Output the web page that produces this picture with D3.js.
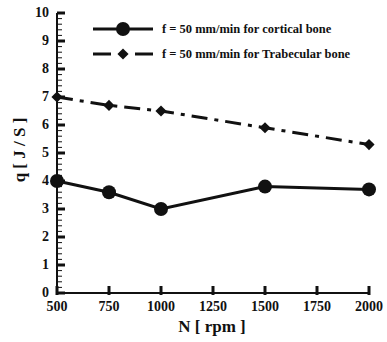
<!DOCTYPE html>
<html>
<head>
<meta charset="utf-8">
<script src="https://cdn.jsdelivr.net/npm/d3@7"></script>
<style>
  body { margin: 0; background: #fff; }
</style>
</head>
<body>
<svg id="chart" width="387" height="342"></svg>
<script>
// data
var speeds = [500, 750, 1000, 1500, 2000];
var cortical = [4.0, 3.6, 3.0, 3.8, 3.7];
var trabecular = [7.0, 6.7, 6.5, 5.9, 5.3];
var xTicks = [500, 750, 1000, 1250, 1500, 1750, 2000];
var yTicks = [0, 1, 2, 3, 4, 5, 6, 7, 8, 9, 10];
var labels = ["f = 50 mm/min for cortical bone", "f = 50 mm/min for Trabecular  bone"];

var serif = "'Liberation Serif', 'Times New Roman', Times, serif";

var svg = d3.select("#chart")
  .attr("font-family", serif).attr("font-weight", "bold");
var x = d3.scaleLinear().domain([500, 2000]).range([57, 369]);
var y = d3.scaleLinear().domain([0, 10]).range([293, 13]);

// minor y ticks
svg.append("g").selectAll("line")
  .data(d3.range(0, 10.01, 0.2))
  .join("line")
  .attr("x1", x(500)).attr("x2", x(500) + 5)
  .attr("y1", function(d) { return y(d); }).attr("y2", function(d) { return y(d); })
  .attr("stroke", "#111").attr("stroke-width", 1);

// major y ticks
svg.append("g").selectAll("line")
  .data(yTicks)
  .join("line")
  .attr("x1", x(500)).attr("x2", x(500) + 8)
  .attr("y1", function(d) { return y(d); }).attr("y2", function(d) { return y(d); })
  .attr("stroke", "#111").attr("stroke-width", 3);

// x ticks
svg.append("g").selectAll("line")
  .data(xTicks)
  .join("line")
  .attr("x1", function(d) { return x(d); }).attr("x2", function(d) { return x(d); })
  .attr("y1", y(0) + 2).attr("y2", y(0) - 7)
  .attr("stroke", "#111").attr("stroke-width", 3);

// axis lines
svg.append("line").attr("x1", x(500)).attr("x2", x(500)).attr("y1", y(10)).attr("y2", y(0))
  .attr("stroke", "#111").attr("stroke-width", 2);
svg.append("line").attr("x1", x(500)).attr("x2", x(2000) + 1).attr("y1", y(0)).attr("y2", y(0))
  .attr("stroke", "#111").attr("stroke-width", 2);

// tick labels
svg.append("g").selectAll("text")
  .data(yTicks)
  .join("text")
  .attr("x", x(500) - 8).attr("y", function(d) { return y(d) + 4; })
  .attr("text-anchor", "end").attr("font-size", 14).attr("fill", "#111")
  .text(function(d) { return d; });

svg.append("g").selectAll("text")
  .data(xTicks)
  .join("text")
  .attr("x", function(d) { return x(d); }).attr("y", y(0) + 18)
  .attr("text-anchor", "middle").attr("font-size", 14).attr("fill", "#111")
  .text(function(d) { return d; });

// axis titles
svg.append("text").attr("x", 212).attr("y", 332).attr("text-anchor", "middle")
  .attr("font-size", 17).attr("fill", "#111").text("N [ rpm ]");
svg.append("text").attr("transform", "translate(25,150) rotate(-90)")
  .attr("text-anchor", "middle").attr("font-size", 17).attr("fill", "#111").text("q [ J / S ]");

var line = d3.line()
  .x(function(d, i) { return x(speeds[i]); })
  .y(function(d) { return y(d); });

// trabecular series: dash-dot with diamonds
svg.append("path").datum(trabecular).attr("d", line)
  .attr("fill", "none").attr("stroke", "#111").attr("stroke-width", 3)
  .attr("stroke-dasharray", "16,7,4,7");
var diamond = d3.symbol().type(d3.symbolSquare).size(62);
svg.append("g").selectAll("path")
  .data(trabecular)
  .join("path")
  .attr("transform", function(d, i) { return "translate(" + x(speeds[i]) + "," + y(d) + ") rotate(45)"; })
  .attr("d", diamond).attr("fill", "#111");

// cortical series: solid with circles
svg.append("path").datum(cortical).attr("d", line)
  .attr("fill", "none").attr("stroke", "#111").attr("stroke-width", 3);
svg.append("g").selectAll("circle")
  .data(cortical)
  .join("circle")
  .attr("cx", function(d, i) { return x(speeds[i]); })
  .attr("cy", function(d) { return y(d); })
  .attr("r", 7).attr("fill", "#111");

// legend
var lg = svg.append("g");
lg.append("line").attr("x1", 93).attr("x2", 153).attr("y1", 29).attr("y2", 29)
  .attr("stroke", "#111").attr("stroke-width", 3);
lg.append("circle").attr("cx", 123).attr("cy", 29).attr("r", 7).attr("fill", "#111");
lg.append("line").attr("x1", 93).attr("x2", 111).attr("y1", 54).attr("y2", 54)
  .attr("stroke", "#111").attr("stroke-width", 3);
lg.append("line").attr("x1", 135).attr("x2", 153).attr("y1", 54).attr("y2", 54)
  .attr("stroke", "#111").attr("stroke-width", 3);
lg.append("path").attr("transform", "translate(123,54) rotate(45)").attr("d", diamond).attr("fill", "#111");
lg.selectAll("text")
  .data(labels)
  .join("text")
  .attr("x", 162).attr("y", function(d, i) { return 33 + i * 25; })
  .attr("font-size", 12.5).attr("fill", "#111")
  .text(function(d) { return d; });
</script>
</body>
</html>
